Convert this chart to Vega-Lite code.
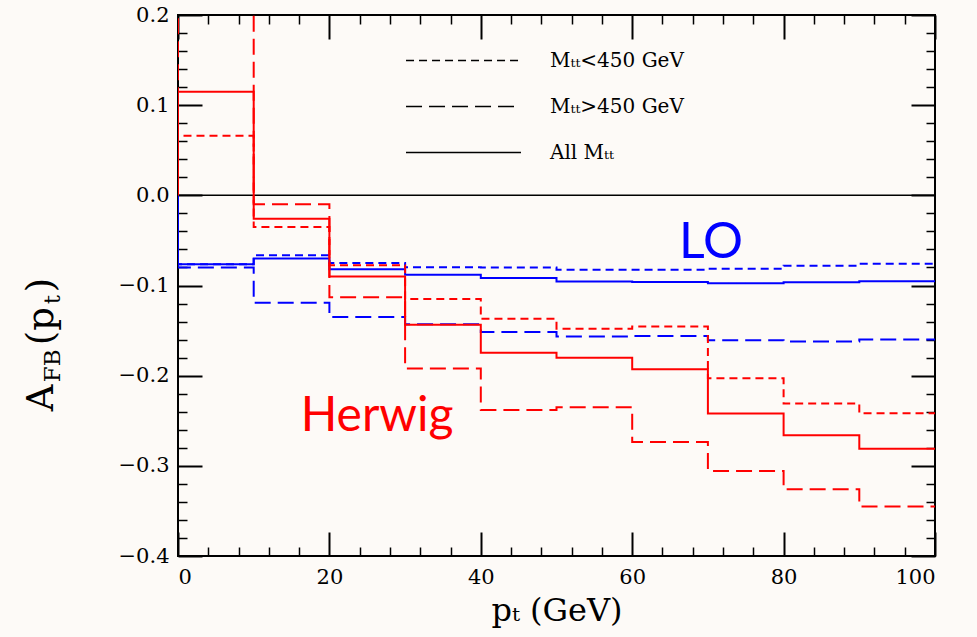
{
  "$schema": "https://vega.github.io/schema/vega-lite/v6.json",
  "width": 757,
  "height": 541,
  "autosize": "none",
  "padding": {"left": 178, "top": 15, "right": 42, "bottom": 81},
  "background": "#fdfaf7",
  "config": {
    "view": {"stroke": "black", "strokeWidth": 2},
    "axis": {"domain": false, "grid": false, "tickColor": "black", "tickWidth": 1.5, "labelColor": "black", "labelFont": "DejaVu Serif", "labelFontSize": 21, "titleFont": "DejaVu Serif", "titleFontWeight": "normal", "titleColor": "black", "zindex": 1}
  },
  "datasets": {
    "hist": [
      {"m": "LO", "c": "a", "i": 0, "pt": 0, "A": 0},
      {"m": "LO", "c": "a", "i": 1, "pt": 0, "A": -0.0765},
      {"m": "LO", "c": "a", "i": 2, "pt": 10, "A": -0.070},
      {"m": "LO", "c": "a", "i": 3, "pt": 20, "A": -0.082},
      {"m": "LO", "c": "a", "i": 4, "pt": 30, "A": -0.088},
      {"m": "LO", "c": "a", "i": 5, "pt": 40, "A": -0.0917},
      {"m": "LO", "c": "a", "i": 6, "pt": 50, "A": -0.0957},
      {"m": "LO", "c": "a", "i": 7, "pt": 60, "A": -0.096},
      {"m": "LO", "c": "a", "i": 8, "pt": 70, "A": -0.0976},
      {"m": "LO", "c": "a", "i": 9, "pt": 80, "A": -0.0965},
      {"m": "LO", "c": "a", "i": 10, "pt": 90, "A": -0.0954},
      {"m": "LO", "c": "a", "i": 11, "pt": 100, "A": -0.0954},
      {"m": "LO", "c": "s", "i": 0, "pt": 0, "A": 0},
      {"m": "LO", "c": "s", "i": 1, "pt": 0, "A": -0.0765},
      {"m": "LO", "c": "s", "i": 2, "pt": 10, "A": -0.0665},
      {"m": "LO", "c": "s", "i": 3, "pt": 20, "A": -0.075},
      {"m": "LO", "c": "s", "i": 4, "pt": 30, "A": -0.0798},
      {"m": "LO", "c": "s", "i": 5, "pt": 40, "A": -0.080},
      {"m": "LO", "c": "s", "i": 6, "pt": 50, "A": -0.0825},
      {"m": "LO", "c": "s", "i": 7, "pt": 60, "A": -0.0825},
      {"m": "LO", "c": "s", "i": 8, "pt": 70, "A": -0.0815},
      {"m": "LO", "c": "s", "i": 9, "pt": 80, "A": -0.078},
      {"m": "LO", "c": "s", "i": 10, "pt": 90, "A": -0.076},
      {"m": "LO", "c": "s", "i": 11, "pt": 100, "A": -0.076},
      {"m": "LO", "c": "l", "i": 0, "pt": 0, "A": 0},
      {"m": "LO", "c": "l", "i": 1, "pt": 0, "A": -0.080},
      {"m": "LO", "c": "l", "i": 2, "pt": 10, "A": -0.119},
      {"m": "LO", "c": "l", "i": 3, "pt": 20, "A": -0.135},
      {"m": "LO", "c": "l", "i": 4, "pt": 30, "A": -0.143},
      {"m": "LO", "c": "l", "i": 5, "pt": 40, "A": -0.1515},
      {"m": "LO", "c": "l", "i": 6, "pt": 50, "A": -0.1565},
      {"m": "LO", "c": "l", "i": 7, "pt": 60, "A": -0.156},
      {"m": "LO", "c": "l", "i": 8, "pt": 70, "A": -0.1607},
      {"m": "LO", "c": "l", "i": 9, "pt": 80, "A": -0.162},
      {"m": "LO", "c": "l", "i": 10, "pt": 90, "A": -0.160},
      {"m": "LO", "c": "l", "i": 11, "pt": 100, "A": -0.160},
      {"m": "Herwig", "c": "a", "i": 0, "pt": 0, "A": 0},
      {"m": "Herwig", "c": "a", "i": 1, "pt": 0, "A": 0.115},
      {"m": "Herwig", "c": "a", "i": 2, "pt": 10, "A": -0.026},
      {"m": "Herwig", "c": "a", "i": 3, "pt": 20, "A": -0.090},
      {"m": "Herwig", "c": "a", "i": 4, "pt": 30, "A": -0.1435},
      {"m": "Herwig", "c": "a", "i": 5, "pt": 40, "A": -0.1747},
      {"m": "Herwig", "c": "a", "i": 6, "pt": 50, "A": -0.180},
      {"m": "Herwig", "c": "a", "i": 7, "pt": 60, "A": -0.193},
      {"m": "Herwig", "c": "a", "i": 8, "pt": 70, "A": -0.242},
      {"m": "Herwig", "c": "a", "i": 9, "pt": 80, "A": -0.266},
      {"m": "Herwig", "c": "a", "i": 10, "pt": 90, "A": -0.281},
      {"m": "Herwig", "c": "a", "i": 11, "pt": 100, "A": -0.281},
      {"m": "Herwig", "c": "s", "i": 0, "pt": 0, "A": 0},
      {"m": "Herwig", "c": "s", "i": 1, "pt": 0, "A": 0.066},
      {"m": "Herwig", "c": "s", "i": 2, "pt": 10, "A": -0.035},
      {"m": "Herwig", "c": "s", "i": 3, "pt": 20, "A": -0.0776},
      {"m": "Herwig", "c": "s", "i": 4, "pt": 30, "A": -0.115},
      {"m": "Herwig", "c": "s", "i": 5, "pt": 40, "A": -0.137},
      {"m": "Herwig", "c": "s", "i": 6, "pt": 50, "A": -0.148},
      {"m": "Herwig", "c": "s", "i": 7, "pt": 60, "A": -0.1455},
      {"m": "Herwig", "c": "s", "i": 8, "pt": 70, "A": -0.203},
      {"m": "Herwig", "c": "s", "i": 9, "pt": 80, "A": -0.231},
      {"m": "Herwig", "c": "s", "i": 10, "pt": 90, "A": -0.2417},
      {"m": "Herwig", "c": "s", "i": 11, "pt": 100, "A": -0.2417},
      {"m": "Herwig", "c": "l", "i": 0, "pt": 0, "A": 0},
      {"m": "Herwig", "c": "l", "i": 1, "pt": 0, "A": 0.3},
      {"m": "Herwig", "c": "l", "i": 2, "pt": 10, "A": -0.010},
      {"m": "Herwig", "c": "l", "i": 3, "pt": 20, "A": -0.113},
      {"m": "Herwig", "c": "l", "i": 4, "pt": 30, "A": -0.192},
      {"m": "Herwig", "c": "l", "i": 5, "pt": 40, "A": -0.238},
      {"m": "Herwig", "c": "l", "i": 6, "pt": 50, "A": -0.235},
      {"m": "Herwig", "c": "l", "i": 7, "pt": 60, "A": -0.2735},
      {"m": "Herwig", "c": "l", "i": 8, "pt": 70, "A": -0.3056},
      {"m": "Herwig", "c": "l", "i": 9, "pt": 80, "A": -0.326},
      {"m": "Herwig", "c": "l", "i": 10, "pt": 90, "A": -0.345},
      {"m": "Herwig", "c": "l", "i": 11, "pt": 100, "A": -0.345}
    ]
  },
  "layer": [
    {
      "data": {"values": [{"z": 0}]},
      "mark": {"type": "rule", "color": "black", "strokeWidth": 1.5},
      "encoding": {
        "x": {"datum": 0, "type": "quantitative", "scale": {"domain": [0, 100], "nice": false, "zero": false},
              "axis": {"orient": "top", "values": [4, 8, 12, 16, 24, 28, 32, 36, 44, 48, 52, 56, 64, 68, 72, 76, 84, 88, 92, 96], "tickSize": -9, "labels": false, "title": null}},
        "x2": {"datum": 100},
        "y": {"datum": 0, "type": "quantitative", "scale": {"domain": [-0.4, 0.2], "nice": false, "zero": false},
              "axis": {"orient": "right", "values": [-0.38, -0.36, -0.34, -0.32, -0.28, -0.26, -0.24, -0.22, -0.18, -0.16, -0.14, -0.12, -0.08, -0.06, -0.04, -0.02, 0.02, 0.04, 0.06, 0.08, 0.12, 0.14, 0.16, 0.18], "tickSize": -9, "labels": false, "title": null}}
      }
    },
    {
      "data": {"values": [{"note": ""}]},
      "mark": {"type": "text", "color": "black"},
      "encoding": {
        "x": {"datum": 50, "type": "quantitative", "axis": {"orient": "bottom", "values": [4, 8, 12, 16, 24, 28, 32, 36, 44, 48, 52, 56, 64, 68, 72, 76, 84, 88, 92, 96], "tickSize": -9, "labels": false, "title": null}},
        "y": {"datum": 0, "type": "quantitative", "axis": {"orient": "left", "values": [-0.38, -0.36, -0.34, -0.32, -0.28, -0.26, -0.24, -0.22, -0.18, -0.16, -0.14, -0.12, -0.08, -0.06, -0.04, -0.02, 0.02, 0.04, 0.06, 0.08, 0.12, 0.14, 0.16, 0.18], "tickSize": -9, "labels": false, "title": null}},
        "text": {"field": "note"}
      }
    },
    {
      "data": {"name": "hist"},
      "mark": {"type": "line", "interpolate": "step-after", "strokeWidth": 2, "clip": true},
      "encoding": {
        "x": {"field": "pt", "type": "quantitative",
              "axis": {"orient": "bottom", "values": [0, 20, 40, 60, 80, 100], "ticks": false, "labelPadding": 10, "title": "pₜ  (GeV)", "titleFontSize": 32, "titlePadding": 8}},
        "y": {"field": "A", "type": "quantitative",
              "axis": {"orient": "left", "values": [-0.4, -0.3, -0.2, -0.1, 0, 0.1, 0.2], "format": ".1f", "ticks": false, "labelPadding": 9, "title": null}},
        "color": {"field": "m", "type": "nominal", "scale": {"domain": ["LO", "Herwig"], "range": ["#0000ff", "#ff0000"]}, "legend": null},
        "strokeDash": {"field": "c", "type": "nominal",
                       "scale": {"domain": ["s", "l", "a"], "range": [[8, 5], [16, 7], [1, 0]]},
                       "legend": {"orient": "none", "legendX": 270, "legendY": 30, "title": null, "symbolType": "M-4,0H4", "symbolStrokeColor": "black", "symbolStrokeWidth": 1.5, "symbolSize": 826, "labelFont": "DejaVu Serif", "labelFontSize": 20, "labelColor": "black", "labelOffset": 71, "rowPadding": 20,
                                  "labelExpr": "datum.value == 's' ? 'Mₜₜ<450  GeV' : datum.value == 'l' ? 'Mₜₜ>450  GeV' : 'All  Mₜₜ'"}},
        "order": {"field": "i", "type": "quantitative"}
      }
    },
    {
      "data": {"values": [{"note": "LO"}]},
      "mark": {"type": "text", "font": "Lato", "fontSize": 50, "color": "#0000ff", "align": "center", "baseline": "alphabetic"},
      "encoding": {
        "x": {"datum": 70.4, "type": "quantitative", "axis": {"orient": "top", "values": [0, 20, 40, 60, 80, 100], "tickSize": -24, "tickWidth": 2, "labels": false, "title": null}},
        "y": {"datum": -0.069, "type": "quantitative", "axis": {"orient": "right", "values": [-0.4, -0.3, -0.2, -0.1, 0, 0.1, 0.2], "tickSize": -24, "tickWidth": 2, "labels": false, "title": null}},
        "text": {"field": "note"}
      }
    },
    {
      "data": {"values": [{"note": "Herwig"}]},
      "mark": {"type": "text", "font": "Lato", "fontSize": 48, "color": "#ff0000", "align": "center", "baseline": "alphabetic"},
      "encoding": {
        "x": {"datum": 26.3, "type": "quantitative", "axis": {"orient": "bottom", "values": [0, 20, 40, 60, 80, 100], "offset": -24, "tickSize": 24, "tickWidth": 2, "labels": false, "title": null}},
        "y": {"datum": -0.261, "type": "quantitative", "axis": {"orient": "left", "values": [-0.4, -0.3, -0.2, -0.1, 0, 0.1, 0.2], "offset": -24, "tickSize": 24, "tickWidth": 2, "labels": false, "title": null}},
        "text": {"field": "note"}
      }
    },
    {
      "data": {"values": [{"t": "A"}]},
      "mark": {"type": "text", "font": "DejaVu Serif", "fontSize": 37, "angle": 270, "align": "left", "baseline": "alphabetic", "color": "black"},
      "encoding": {"x": {"datum": -16.5, "type": "quantitative", "axis": null}, "y": {"datum": -0.2395, "type": "quantitative", "axis": null}, "text": {"field": "t"}}
    },
    {
      "data": {"values": [{"t": "FB"}]},
      "mark": {"type": "text", "font": "DejaVu Serif", "fontSize": 23, "angle": 270, "align": "left", "baseline": "alphabetic", "dx": 29, "dy": 7, "color": "black"},
      "encoding": {"x": {"datum": -16.5, "type": "quantitative", "axis": null}, "y": {"datum": -0.2395, "type": "quantitative", "axis": null}, "text": {"field": "t"}}
    },
    {
      "data": {"values": [{"t": "(p"}]},
      "mark": {"type": "text", "font": "DejaVu Serif", "fontSize": 37, "angle": 270, "align": "left", "baseline": "alphabetic", "dx": 66, "color": "black"},
      "encoding": {"x": {"datum": -16.5, "type": "quantitative", "axis": null}, "y": {"datum": -0.2395, "type": "quantitative", "axis": null}, "text": {"field": "t"}}
    },
    {
      "data": {"values": [{"t": "t"}]},
      "mark": {"type": "text", "font": "DejaVu Serif", "fontSize": 23, "angle": 270, "align": "left", "baseline": "alphabetic", "dx": 107, "dy": 7, "color": "black"},
      "encoding": {"x": {"datum": -16.5, "type": "quantitative", "axis": null}, "y": {"datum": -0.2395, "type": "quantitative", "axis": null}, "text": {"field": "t"}}
    },
    {
      "data": {"values": [{"t": ")"}]},
      "mark": {"type": "text", "font": "DejaVu Serif", "fontSize": 37, "angle": 270, "align": "left", "baseline": "alphabetic", "dx": 119, "color": "black"},
      "encoding": {"x": {"datum": -16.5, "type": "quantitative", "axis": null}, "y": {"datum": -0.2395, "type": "quantitative", "axis": null}, "text": {"field": "t"}}
    }
  ],
  "resolve": {"axis": {"x": "independent", "y": "independent"}}
}
